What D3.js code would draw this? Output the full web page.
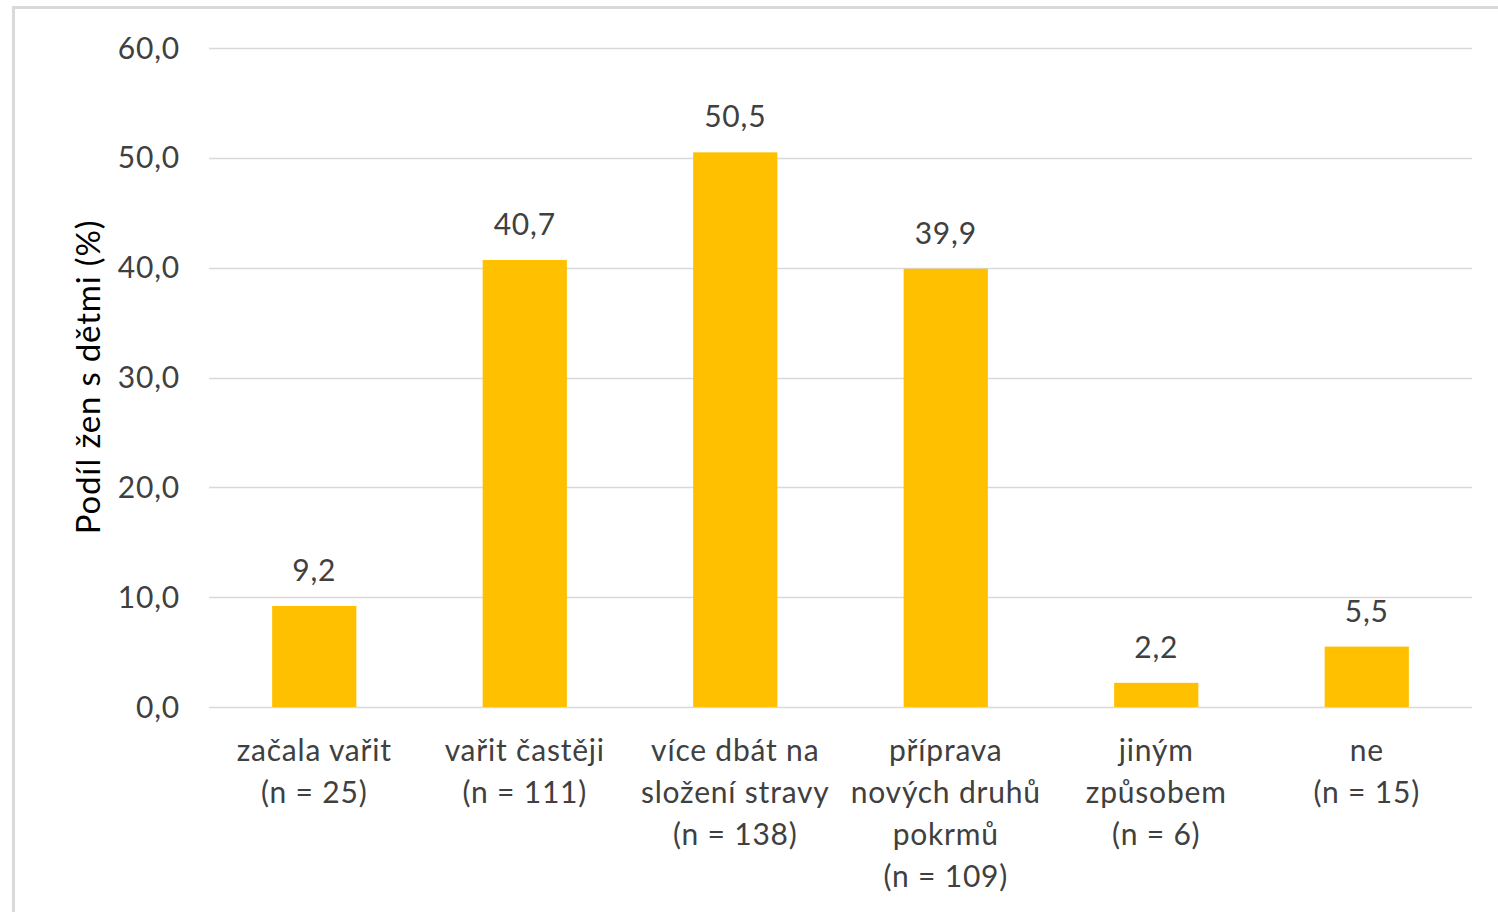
<!DOCTYPE html>
<html><head><meta charset="utf-8">
<script src="https://cdn.jsdelivr.net/npm/d3@7"></script>
<style>body{margin:0;background:#fff;} svg{display:block;}</style>
</head><body>
<script>
const categories = [
  ["začala vařit","(n = 25)"],
  ["vařit častěji","(n = 111)"],
  ["více dbát na","složení stravy","(n = 138)"],
  ["příprava","nových druhů","pokrmů","(n = 109)"],
  ["jiným","způsobem","(n = 6)"],
  ["ne","(n = 15)"]
];
const values = [9.2, 40.7, 50.5, 39.9, 2.2, 5.5];
const yTicks = [0,10,20,30,40,50,60];
const yTitle = "Podíl žen s dětmi (%)";

(function(){
const W = 1498, H = 912;
const font = "Lato, 'Open Sans', sans-serif";
const fs = 30, ls = 0.8;
const svg = d3.select("body").append("svg").attr("width", W).attr("height", H);

svg.append("rect").attr("x",13.5).attr("y",7.5).attr("width",W).attr("height",H)
  .attr("fill","#fff").attr("stroke","#d9d9d9").attr("stroke-width",3);

const pl = 209, pr = 1472, pt = 48, pb = 707;
const x = d3.scaleBand().domain(d3.range(categories.length)).range([pl,pr])
  .paddingInner(0.6).paddingOuter(0.3);
const y = d3.scaleLinear().domain([0,60]).range([pb,pt]);

const fmt = v => d3.format(".1f")(v).replace(".", ",");

svg.append("g").selectAll("line").data(yTicks).join("line")
  .attr("x1",pl).attr("x2",pr)
  .attr("y1",d=>Math.round(y(d))+0.5).attr("y2",d=>Math.round(y(d))+0.5)
  .attr("stroke","#d9d9d9").attr("stroke-width",1.5);

svg.append("g").selectAll("text").data(yTicks).join("text")
  .attr("x",180).attr("y",d=>y(d)).attr("dy","0.35em")
  .attr("text-anchor","end").attr("font-family",font).attr("font-size",fs)
  .attr("letter-spacing",ls)
  .attr("fill","#404040").text(fmt);

svg.append("g").selectAll("rect").data(values).join("rect")
  .attr("x",(d,i)=>x(i)).attr("width",x.bandwidth())
  .attr("y",d=>y(d)).attr("height",d=>pb-y(d))
  .attr("fill","#FFC000");

svg.append("g").selectAll("text").data(values).join("text")
  .attr("x",(d,i)=>x(i)+x.bandwidth()/2).attr("y",d=>y(d)-25)
  .attr("text-anchor","middle").attr("font-family",font).attr("font-size",fs)
  .attr("letter-spacing",ls)
  .attr("fill","#404040").text(fmt);

const cg = svg.append("g").selectAll("text").data(categories).join("text")
  .attr("x",(d,i)=>x(i)+x.bandwidth()/2).attr("y",750)
  .attr("text-anchor","middle").attr("font-family",font).attr("font-size",fs)
  .attr("letter-spacing",ls)
  .attr("fill","#404040");
cg.selectAll("tspan").data(d=>d).join("tspan")
  .attr("x",function(){return this.parentNode.getAttribute("x");})
  .attr("y",(d,j)=>750+j*42).attr("dy","0.35em").text(d=>d);

svg.append("text").attr("transform","translate(88,377) rotate(-90)")
  .attr("text-anchor","middle").attr("dy","0.35em")
  .attr("font-family",font).attr("font-size",33).attr("letter-spacing",0.8)
  .attr("fill","#000")
  .text(yTitle);
})();
</script>
</body></html>
